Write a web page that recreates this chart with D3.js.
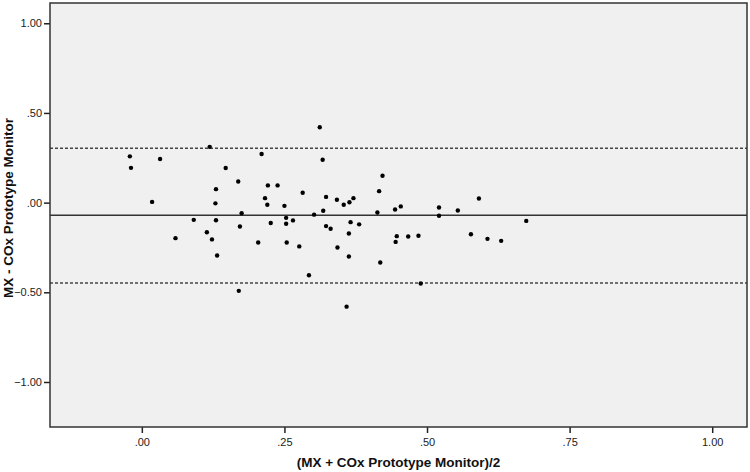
<!DOCTYPE html>
<html>
<head>
<meta charset="utf-8">
<script src="https://cdn.jsdelivr.net/npm/d3@7"></script>
<style>
  body { margin: 0; background: #fff; }
  .tick text { font-family: Arial, "Liberation Sans", sans-serif; font-size: 11px; fill: #222; }
  .axis-title { font-family: Arial, "Liberation Sans", sans-serif; font-size: 13.5px; font-weight: bold; fill: #111; }
</style>
</head>
<body>
<div class="chart"></div>
<script>
// average of the two monitors (x) and their difference (y)
const avgValues = [
  -0.021, -0.019, 0.032, 0.018, 0.119, 0.147, 0.169, 0.130, 0.129, 0.175,
  0.091, 0.130, 0.172, 0.114, 0.123, 0.059, 0.132, 0.170, 0.210, 0.312,
  0.317, 0.221, 0.238, 0.216, 0.220, 0.250, 0.282, 0.323, 0.342, 0.354,
  0.364, 0.371, 0.416, 0.422, 0.318, 0.302, 0.413, 0.444, 0.454, 0.521,
  0.521, 0.554, 0.591, 0.577, 0.606, 0.630, 0.674, 0.226, 0.253, 0.253,
  0.265, 0.323, 0.331, 0.366, 0.381, 0.363, 0.204, 0.254, 0.276, 0.343,
  0.363, 0.418, 0.445, 0.447, 0.467, 0.485, 0.293, 0.359, 0.489
]
const diffValues = [
  0.258, 0.194, 0.243, 0.004, 0.311, 0.193, 0.118, 0.075, -0.004, -0.059,
  -0.096, -0.098, -0.133, -0.165, -0.205, -0.198, -0.295, -0.492, 0.271, 0.420,
  0.239, 0.096, 0.096, 0.025, -0.012, -0.018, 0.055, 0.032, 0.016, -0.012,
  0.002, 0.025, 0.064, 0.150, -0.045, -0.067, -0.055, -0.038, -0.021, -0.027,
  -0.073, -0.044, 0.023, -0.176, -0.202, -0.213, -0.102, -0.114, -0.085, -0.118,
  -0.099, -0.131, -0.146, -0.109, -0.121, -0.172, -0.222, -0.222, -0.244, -0.250,
  -0.300, -0.334, -0.219, -0.187, -0.189, -0.185, -0.405, -0.580, -0.451
]

// mean difference and limits of agreement
const meanDiff = -0.070
const limitLines = [0.303, -0.448]

const xTicks = [0, 0.25, 0.5, 0.75, 1]
const yTicks = [-1, -0.5, 0, 0.5, 1]
const xTitle = '(MX + COx Prototype Monitor)/2'
const yTitle = 'MX - COx Prototype Monitor'

const W = 750, H = 472
const margin = {top: 3, right: 3, bottom: 45, left: 50}
const width = W - margin.left - margin.right
const height = H - margin.top - margin.bottom

const fmt = d => d3.format('.2f')(d).replace(/^(-?)0\./, '$1.')

const xScale = d3.scaleLinear().domain([-0.161, 1.061]).range([0, width])
const yScale = d3.scaleLinear().domain([-1.251, 1.113]).range([height, 0])

const svg = d3.select('.chart').append('svg')
    .attr('width', W)
    .attr('height', H)
  .append('g')
    .attr('transform', 'translate(' + margin.left + ',' + margin.top + ')')

svg.append('rect')
  .attr('width', width)
  .attr('height', height)
  .attr('fill', '#f0f0f0')

// x axis
svg.append('g')
  .attr('transform', 'translate(0,' + height + ')')
  .call(d3.axisBottom(xScale).tickValues(xTicks).tickSize(6).tickPadding(5).tickFormat(fmt))
  .call(g => g.select('.domain').remove())
  .call(g => g.selectAll('.tick line').attr('stroke', '#222').attr('stroke-width', 1.5))

// y axis
svg.append('g')
  .call(d3.axisLeft(yScale).tickValues(yTicks).tickSize(6).tickPadding(2).tickFormat(fmt))
  .call(g => g.select('.domain').remove())
  .call(g => g.selectAll('.tick line').attr('stroke', '#222').attr('stroke-width', 1.5))

// mean line
svg.append('line')
  .attr('x1', 0).attr('x2', width)
  .attr('y1', yScale(meanDiff)).attr('y2', yScale(meanDiff))
  .attr('stroke', '#333')
  .attr('stroke-width', 1.6)

// limits of agreement
svg.selectAll('.limit')
  .data(limitLines)
  .enter().append('line')
  .attr('class', 'limit')
  .attr('x1', 0).attr('x2', width)
  .attr('y1', d => yScale(d)).attr('y2', d => yScale(d))
  .attr('stroke', '#444')
  .attr('stroke-width', 1.4)
  .attr('stroke-dasharray', '3,2')

// points
const points = avgValues.map((x, i) => ({x, y: diffValues[i]}))
svg.selectAll('.dot')
  .data(points)
  .enter().append('circle')
  .attr('class', 'dot')
  .attr('cx', d => xScale(d.x))
  .attr('cy', d => yScale(d.y))
  .attr('r', 2.2)
  .attr('fill', '#000')

// frame
svg.append('rect')
  .attr('width', width)
  .attr('height', height)
  .attr('fill', 'none')
  .attr('stroke', '#333')
  .attr('stroke-width', 1.5)

svg.append('text')
  .attr('class', 'axis-title')
  .attr('x', width / 2)
  .attr('y', height + 40)
  .attr('text-anchor', 'middle')
  .text(xTitle)

svg.append('text')
  .attr('class', 'axis-title')
  .attr('transform', 'translate(' + (-margin.left + 13) + ',' + 205 + ') rotate(-90)')
  .attr('text-anchor', 'middle')
  .text(yTitle)
</script>
</body>
</html>
